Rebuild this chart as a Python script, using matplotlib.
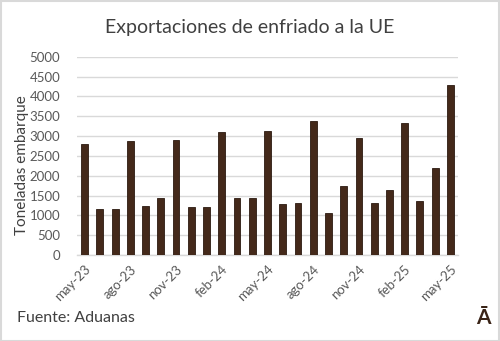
import matplotlib.pyplot as plt
from matplotlib.patches import Rectangle

plt.rcParams['font.family'] = ['Lato', 'DejaVu Sans']

months = ["may-23", "jun-23", "jul-23", "ago-23", "sep-23", "oct-23", "nov-23",
          "dic-23", "ene-24", "feb-24", "mar-24", "abr-24", "may-24", "jun-24",
          "jul-24", "ago-24", "sep-24", "oct-24", "nov-24", "dic-24", "ene-25",
          "feb-25", "mar-25", "abr-25", "may-25"]
toneladas = [2800, 1170, 1170, 2880, 1225, 1445, 2900, 1205, 1200, 3100,
             1425, 1445, 3115, 1290, 1315, 3375, 1065, 1745, 2950, 1315,
             1635, 3335, 1370, 2185, 4290]
yticks = [0, 500, 1000, 1500, 2000, 2500, 3000, 3500, 4000, 4500, 5000]

W, H = 500, 341
fig = plt.figure(figsize=(W / 100, H / 100), dpi=100)
ax = fig.add_axes([77 / W, 1 - 255 / H, (458 - 77) / W, (255 - 56.7) / H])

x = list(range(len(months)))
ax.bar(x, toneladas, width=0.45, color="#44291a", edgecolor="#2b1a10",
       linewidth=0.6, zorder=3)

ax.set_xlim(-0.5, len(months) - 0.5)
ax.set_ylim(0, 5000)
ax.set_yticks(yticks)
ax.set_yticklabels([str(v) for v in yticks], fontsize=9.5, color="#595959")
ax.grid(axis="y", color="#d9d9d9", linewidth=1, zorder=0)
ax.tick_params(axis="y", length=0, pad=12)

ax.set_xticks(x[::3])
ax.set_xticklabels(months[::3], rotation=45, ha="right", rotation_mode="anchor",
                   fontsize=9.5, color="#595959")
ax.tick_params(axis="x", length=0, pad=6)

for s in ["top", "right", "left"]:
    ax.spines[s].set_visible(False)
ax.spines["bottom"].set_color("#d9d9d9")
ax.spines["bottom"].set_linewidth(1)

ax.set_ylabel("Toneladas embarque", fontsize=11, color="#404040")
ax.yaxis.set_label_coords((29 - 77) / 381, 0.455)

fig.text(0.5, 1 - 27 / H, "Exportaciones de enfriado a la UE", ha="center",
         va="center", fontsize=14, color="#404040")
fig.text(17 / W, 1 - 318 / H, "Fuente: Aduanas", ha="left", va="center",
         fontsize=11.5, color="#404040")
fig.text(483 / W, 1 - 318 / H, "Ā", ha="center", va="center",
         fontsize=15, fontweight="bold", color="#3a2417")

fig.patches.append(Rectangle((0.5 / W, 0.5 / H), 1 - 1.5 / W, 1 - 1.5 / H,
                             transform=fig.transFigure, fill=False,
                             edgecolor="#d9d9d9", linewidth=1.5))

fig.savefig("out.png", dpi=100)
